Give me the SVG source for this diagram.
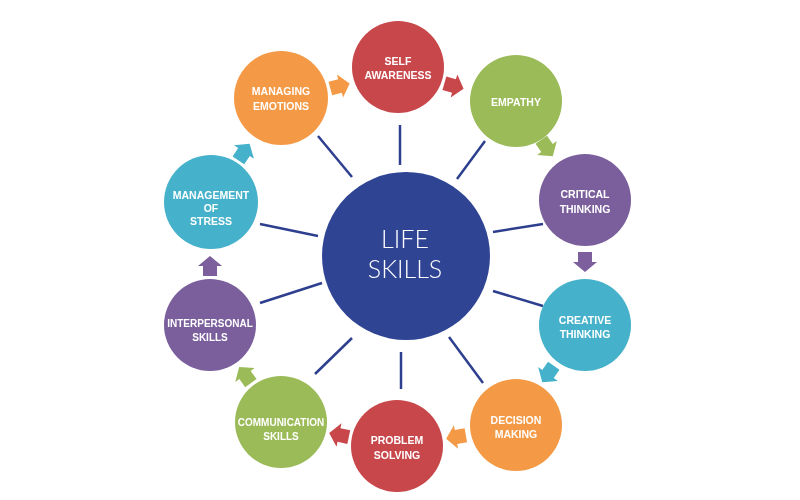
<svg xmlns="http://www.w3.org/2000/svg" width="800" height="500" viewBox="0 0 800 500">
<style>
.lbl{font-family:"Liberation Sans",Arial,sans-serif;font-weight:bold;font-size:10.5px;fill:#ffffff;text-anchor:middle}
.ctr{font-family:Lato,"Open Sans",sans-serif;font-weight:300;font-size:25px;fill:#ffffff;text-anchor:middle}
.spoke{stroke:#2D3F8E;stroke-width:2.5;stroke-linecap:butt}
.red{fill:#C8474B}.orange{fill:#F49A46}.green{fill:#9BBB59}.purple{fill:#7B5F9C}.teal{fill:#45B1CA}
</style>
<defs>
<filter id="soft" x="-30%" y="-30%" width="160%" height="160%"><feGaussianBlur stdDeviation="0.7"/></filter>
<polygon id="arr" points="-10,-7 0,-7 0,-12 10,0 0,12 0,7 -10,7"/>
</defs>
<rect width="800" height="500" fill="#ffffff"/>
<g id="connectors">
<line class="spoke" x1="400" y1="125" x2="400" y2="165"/>
<line class="spoke" x1="318" y1="136" x2="352" y2="177"/>
<line class="spoke" x1="485" y1="141" x2="457" y2="179"/>
<line class="spoke" x1="493" y1="232" x2="543" y2="224"/>
<line class="spoke" x1="493" y1="291" x2="543" y2="306"/>
<line class="spoke" x1="449" y1="337" x2="483" y2="383"/>
<line class="spoke" x1="401" y1="352" x2="401" y2="389"/>
<line class="spoke" x1="352" y1="338" x2="315" y2="374"/>
<line class="spoke" x1="322" y1="283" x2="260" y2="303"/>
<line class="spoke" x1="318" y1="236" x2="260" y2="224"/>
<g filter="url(#soft)">
<use href="#arr" class="orange" transform="translate(340,86) rotate(-15)"/>
<use href="#arr" class="red" transform="translate(454,86) rotate(16)"/>
<use href="#arr" class="green" transform="translate(547,148) rotate(55)"/>
<use href="#arr" class="purple" transform="translate(585,262) rotate(90)"/>
<use href="#arr" class="teal" transform="translate(548,374) rotate(125)"/>
<use href="#arr" class="orange" transform="translate(456,437) rotate(170)"/>
<use href="#arr" class="red" transform="translate(339,435) rotate(192)"/>
<use href="#arr" class="green" transform="translate(245,375) rotate(234)"/>
<use href="#arr" class="purple" transform="translate(210,266) rotate(270)"/>
<use href="#arr" class="teal" transform="translate(244,152) rotate(-56)"/>
</g>
</g>
<g id="life-skills">
<circle cx="406" cy="256" r="84" fill="#2F4594"/>
<text class="ctr" x="405" y="248">LIFE</text>
<text class="ctr" x="405" y="278">SKILLS</text>
</g>
<g id="self-awareness">
<circle class="red" cx="398" cy="67" r="46"/>
<text class="lbl" x="398" y="65">SELF</text>
<text class="lbl" x="398" y="79">AWARENESS</text>
</g>
<g id="empathy">
<circle class="green" cx="516" cy="101" r="46"/>
<text class="lbl" x="516" y="106">EMPATHY</text>
</g>
<g id="critical-thinking">
<circle class="purple" cx="585" cy="200" r="46"/>
<text class="lbl" x="585" y="198">CRITICAL</text>
<text class="lbl" x="585" y="213">THINKING</text>
</g>
<g id="creative-thinking">
<circle class="teal" cx="585" cy="325" r="46"/>
<text class="lbl" x="585" y="324">CREATIVE</text>
<text class="lbl" x="585" y="338">THINKING</text>
</g>
<g id="decision-making">
<circle class="orange" cx="516" cy="425" r="46"/>
<text class="lbl" x="516" y="424">DECISION</text>
<text class="lbl" x="516" y="438">MAKING</text>
</g>
<g id="problem-solving">
<circle class="red" cx="397" cy="446" r="46"/>
<text class="lbl" x="397" y="444">PROBLEM</text>
<text class="lbl" x="397" y="459">SOLVING</text>
</g>
<g id="communication-skills">
<circle class="green" cx="281" cy="422" r="46"/>
<text class="lbl" x="281" y="426" style="font-size:10px">COMMUNICATION</text>
<text class="lbl" x="281" y="440" style="font-size:10px">SKILLS</text>
</g>
<g id="interpersonal-skills">
<circle class="purple" cx="210" cy="325" r="46"/>
<text class="lbl" x="210" y="327" style="font-size:10px">INTERPERSONAL</text>
<text class="lbl" x="210" y="341" style="font-size:10px">SKILLS</text>
</g>
<g id="management-of-stress">
<circle class="teal" cx="211" cy="202" r="47"/>
<text class="lbl" x="211" y="199">MANAGEMENT</text>
<text class="lbl" x="211" y="212">OF</text>
<text class="lbl" x="211" y="225">STRESS</text>
</g>
<g id="managing-emotions">
<circle class="orange" cx="281" cy="98" r="47"/>
<text class="lbl" x="281" y="95">MANAGING</text>
<text class="lbl" x="281" y="110">EMOTIONS</text>
</g>
</svg>
